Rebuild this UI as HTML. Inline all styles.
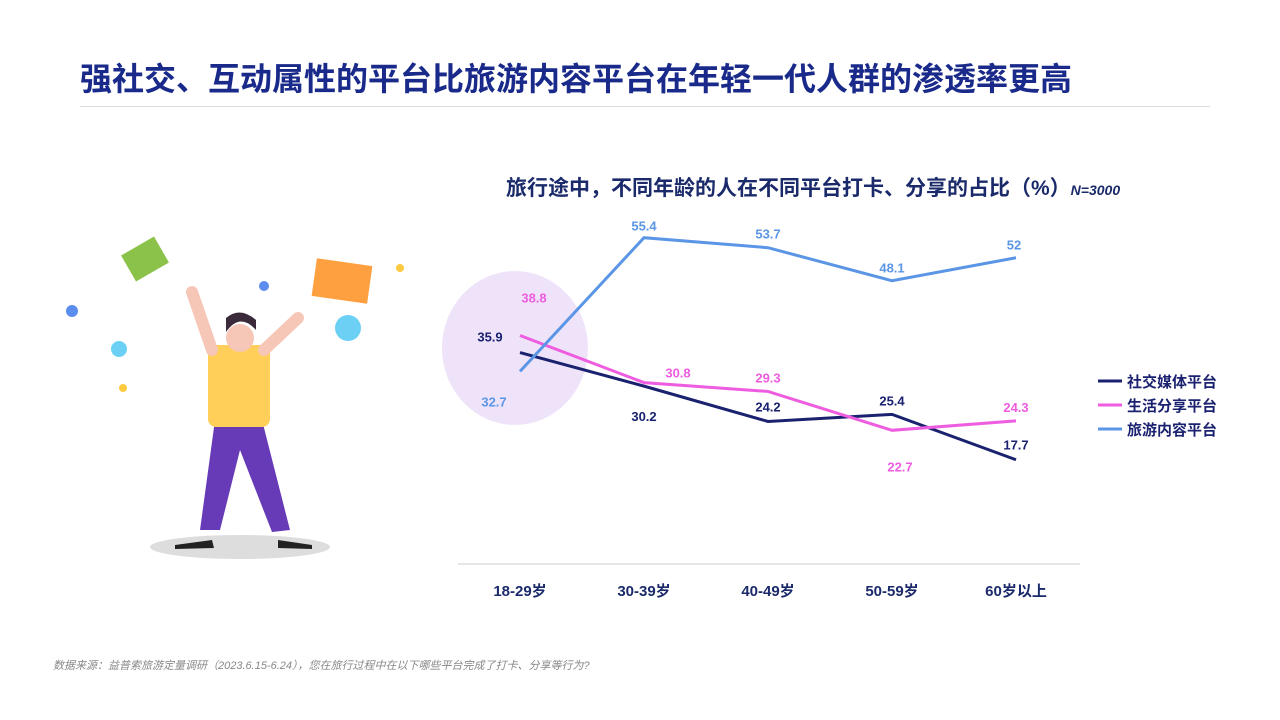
<!DOCTYPE html>
<html><head><meta charset="utf-8">
<style>
body{margin:0;width:1280px;height:720px;background:#fff;position:relative;overflow:hidden;font-family:"Liberation Sans","Noto Sans CJK SC",sans-serif;}
.t{position:absolute;white-space:nowrap;}
</style></head><body>
<div class="t" style="left:80px;top:54px;font-size:32px;font-weight:bold;color:#1a2a8a;">强社交、互动属性的平台比旅游内容平台在年轻一代人群的渗透率更高</div>
<div style="position:absolute;left:80px;top:106px;width:1130px;height:1px;background:#ddd;"></div>
<div class="t" style="left:506px;top:172px;font-size:21px;font-weight:bold;color:#1a2a6a;">旅行途中，不同年龄的人在不同平台打卡、分享的占比（%）<i style="font-size:14px;">N=3000</i></div>
<div class="t" style="left:53px;top:657px;font-size:11px;font-style:italic;color:#888;">数据来源：益普索旅游定量调研（2023.6.15-6.24），您在旅行过程中在以下哪些平台完成了打卡、分享等行为?</div>

<svg width="1280" height="720" style="position:absolute;left:0;top:0">
<ellipse cx="240" cy="547" rx="90" ry="12" fill="#ddd"/>
<rect x="126" y="244" width="38" height="30" fill="#8bc34a" transform="rotate(-30 145 259)"/>
<rect x="314" y="262" width="56" height="38" fill="#ffa040" transform="rotate(8 342 281)"/>
<circle cx="72" cy="311" r="6" fill="#5b8def"/><circle cx="119" cy="349" r="8" fill="#6cd0f5"/>
<circle cx="264" cy="286" r="5" fill="#5b8def"/><circle cx="348" cy="328" r="13" fill="#6cd0f5"/>
<circle cx="123" cy="388" r="4" fill="#ffc940"/><circle cx="400" cy="268" r="4" fill="#ffc940"/>
<path d="M215 420 L262 420 L290 530 L272 532 L240 450 L220 530 L200 530 Z" fill="#673ab7"/>
<rect x="208" y="345" width="62" height="82" rx="8" fill="#ffcf5a"/>
<path d="M212 350 L192 292 M264 350 L298 318" stroke="#f6c7b7" stroke-width="12" stroke-linecap="round"/>
<circle cx="240" cy="338" r="14" fill="#f6c7b7"/>
<path d="M226 332 Q240 312 256 330 L256 320 Q240 306 226 318 Z" fill="#3a2a3a"/>
<path d="M175 545 L212 540 L214 548 L175 549 Z M278 540 L312 545 L312 549 L278 548 Z" fill="#222"/>
<ellipse cx="515" cy="348" rx="73" ry="77" fill="#efe3fa"/>
</svg>

<svg id="chart" width="1280" height="720" style="position:absolute;left:0;top:0"></svg>

<script>
const categories=["18-29岁","30-39岁","40-49岁","50-59岁","60岁以上"];
const social=[35.9,30.2,24.2,25.4,17.7];
const life=[38.8,30.8,29.3,22.7,24.3];
const travel=[32.7,55.4,53.7,48.1,52];
const seriesNames=["社交媒体平台","生活分享平台","旅游内容平台"];
const colors=["#1a2270","#ee5ce0","#5b96e6"];
const NS="http://www.w3.org/2000/svg";
const svg=document.getElementById('chart');
const x=i=>520+i*124;
const y=v=>564-v*5.89;
function mk(t,a){const e=document.createElementNS(NS,t);for(const k in a)e.setAttribute(k,a[k]);svg.appendChild(e);return e;}
const ax=mk('line',{x1:458,x2:1080,y1:564,y2:564,stroke:'#ccc','stroke-width':1});


categories.forEach((c,i)=>{const t=mk('text',{x:x(i),y:596,'text-anchor':'middle','font-size':15,'font-weight':'bold',fill:'#1a2a6a'});t.textContent=c;

});
const data=[social,life,travel];
const offs=[
 [[-30,-16],[0,30],[0,-15],[0,-14],[0,-15]],
 [[14,-38],[34,-10],[0,-14],[8,36],[0,-14]],
 [[-26,30],[0,-12],[0,-14],[0,-13],[-2,-13]]];
data.forEach((d,s)=>{
 const p=mk('polyline',{points:d.map((v,i)=>x(i)+','+y(v)).join(' '),fill:'none',stroke:colors[s],'stroke-width':3});
 
 
 d.forEach((v,i)=>{const t=mk('text',{x:x(i)+offs[s][i][0],y:y(v)+offs[s][i][1]+5,'text-anchor':'middle','font-size':13,'font-weight':'bold',fill:colors[s]});t.textContent=v;
 
 });
 const ly=381+s*24;
 const l=mk('line',{x1:1098,x2:1122,y1:ly,y2:ly,stroke:colors[s],'stroke-width':3});
 
 
 const lt=mk('text',{x:1127,y:ly+6,'font-size':15,'font-weight':'bold',fill:'#1a2270'});lt.textContent=seriesNames[s];
 
 
});
</script>
</body></html>
